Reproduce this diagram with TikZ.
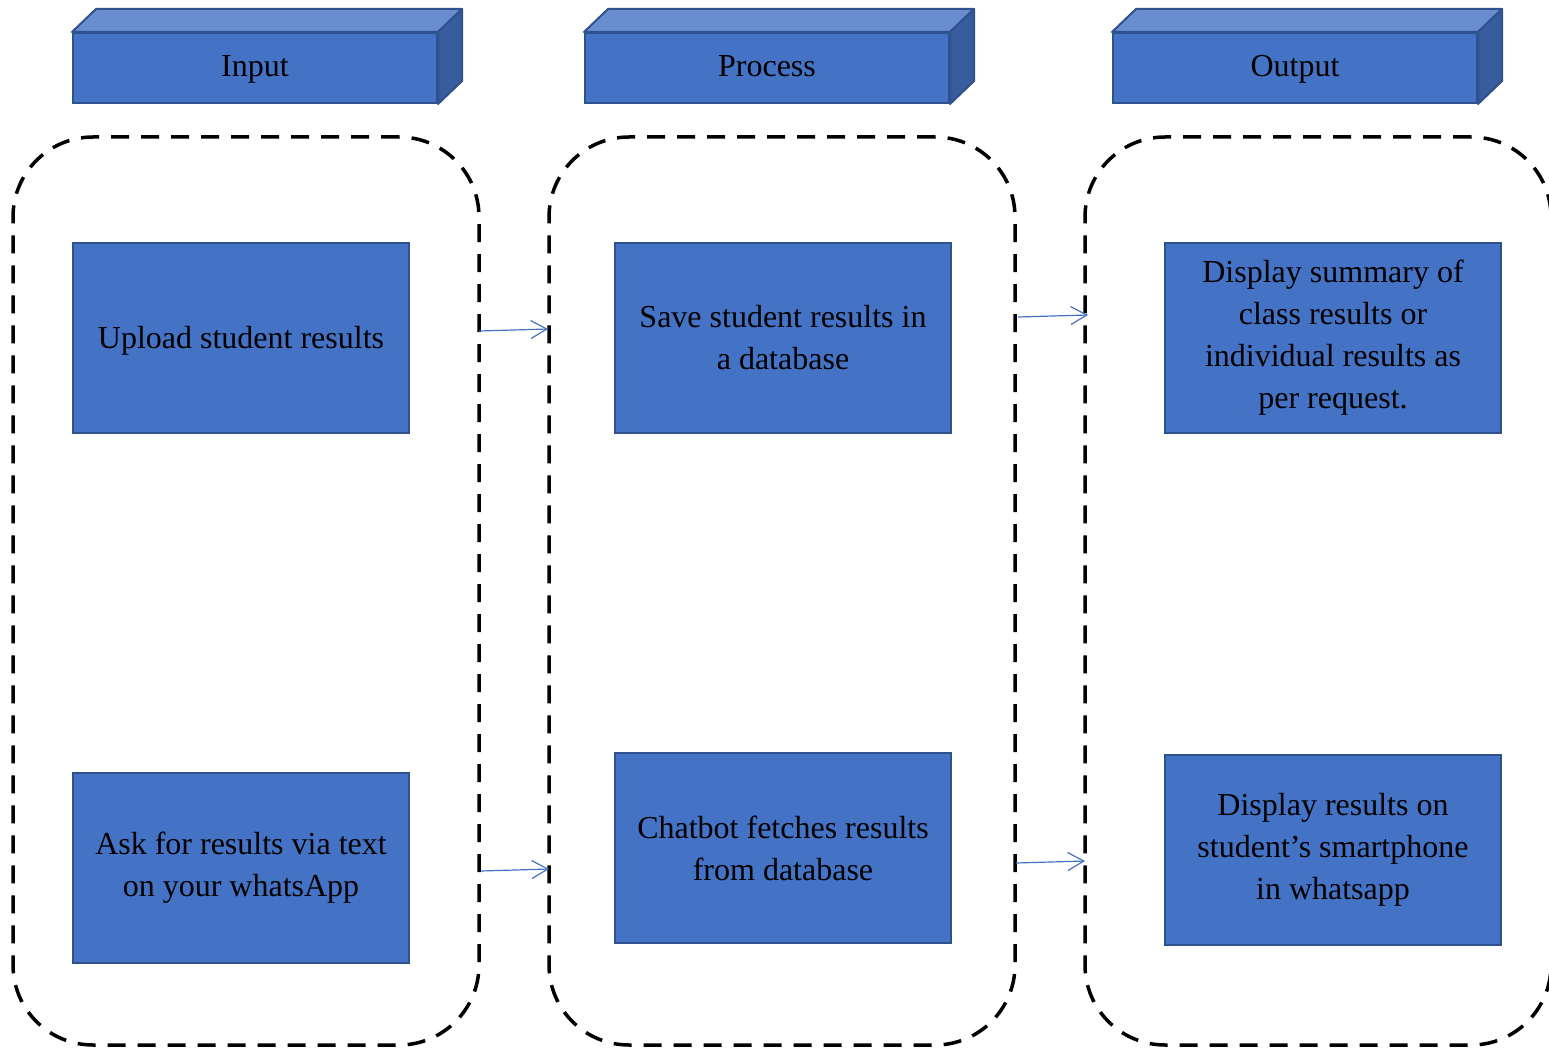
\documentclass[tikz,border=0pt]{standalone}
\usepackage{fontspec}
\setmainfont{Liberation Serif}
\usetikzlibrary{arrows.meta}
\definecolor{boxblue}{HTML}{4472C4}
\definecolor{edgeblue}{HTML}{2F528F}
\definecolor{topblue}{HTML}{698ED0}
\definecolor{sideblue}{HTML}{385D9E}
\tikzset{
  txt/.style={font=\fontsize{32}{42}\selectfont, align=center, text=black},
  bluebox/.style={txt, draw=edgeblue, fill=boxblue, line width=2pt,
    minimum width=336pt, minimum height=190pt, inner sep=0pt},
  hdr/.style={txt, draw=edgeblue, fill=boxblue, line width=2pt,
    minimum width=364pt, minimum height=70pt, inner sep=0pt,
    text height=24pt, text depth=6pt},
  topface/.style={draw=edgeblue, fill=topblue, line width=2pt, line join=round},
  sideface/.style={draw=edgeblue, fill=sideblue, line width=2pt, line join=round},
  container/.style={draw=black, line width=3.5pt, dash pattern=on 18pt off 12pt,
    rounded corners=80pt, minimum width=466pt, minimum height=908pt, inner sep=0pt},
  conn/.style={draw=boxblue, line width=1.2pt, -{Straight Barb[length=16pt,width=18pt]}}
}
\newcommand{\mkheader}[1]{%
  \fill[topface] (#1.north west) -- ++(24,-23) -- ([shift={(24,-23)}]#1.north east) -- (#1.north east) -- cycle;
  \fill[sideface] (#1.north east) -- ++(24,-23) -- ([shift={(24,-23)}]#1.south east) -- (#1.south east) -- cycle;
}
\begin{document}
\begin{tikzpicture}[x=1pt,y=-1pt]
\useasboundingbox (0,0) rectangle (1549,1048);
\fill[white] (0,0) rectangle (1549,1048);

% headers
\node[hdr] (hin) at (255,68) {Input};
\node[hdr] (hpr) at (767,68) {Process};
\node[hdr] (hout) at (1295,68) {Output};
\mkheader{hin}
\mkheader{hpr}
\mkheader{hout}

% containers
\node[container] (cin) at (246,591) {};
\node[container] (cpr) at (782,591) {};
\node[container] (cout) at (1318,591) {};

% boxes
\node[bluebox] (upl) at (241,338) {\raisebox{-3pt}[22pt][7pt]{Upload student results}};
\node[bluebox] (ask) at (241,868) {Ask for results via text\\on your whatsApp};
\node[bluebox] (save) at (783,338) {Save student results in\\a database};
\node[bluebox] (fetch) at (783,848) {Chatbot fetches results\\from database};
\node[bluebox] (dsum) at (1333,338) {Display summary of\\class results or\\individual results as\\per request.};
\node[bluebox] (dres) at (1333,850) {Display results on\\student’s smartphone\\in whatsapp};

% connector end points on container borders
\coordinate (a1s) at (479,331);
\coordinate (a1e) at (548,329);
\coordinate (a2s) at (481,871);
\coordinate (a2e) at (549,869);
\coordinate (a3s) at (1018,317);
\coordinate (a3e) at (1088,315);
\coordinate (a4s) at (1016,863);
\coordinate (a4e) at (1085,861);
\draw[conn] (a1s) -- (a1e);
\draw[conn] (a2s) -- (a2e);
\draw[conn] (a3s) -- (a3e);
\draw[conn] (a4s) -- (a4e);
\end{tikzpicture}
\end{document}
